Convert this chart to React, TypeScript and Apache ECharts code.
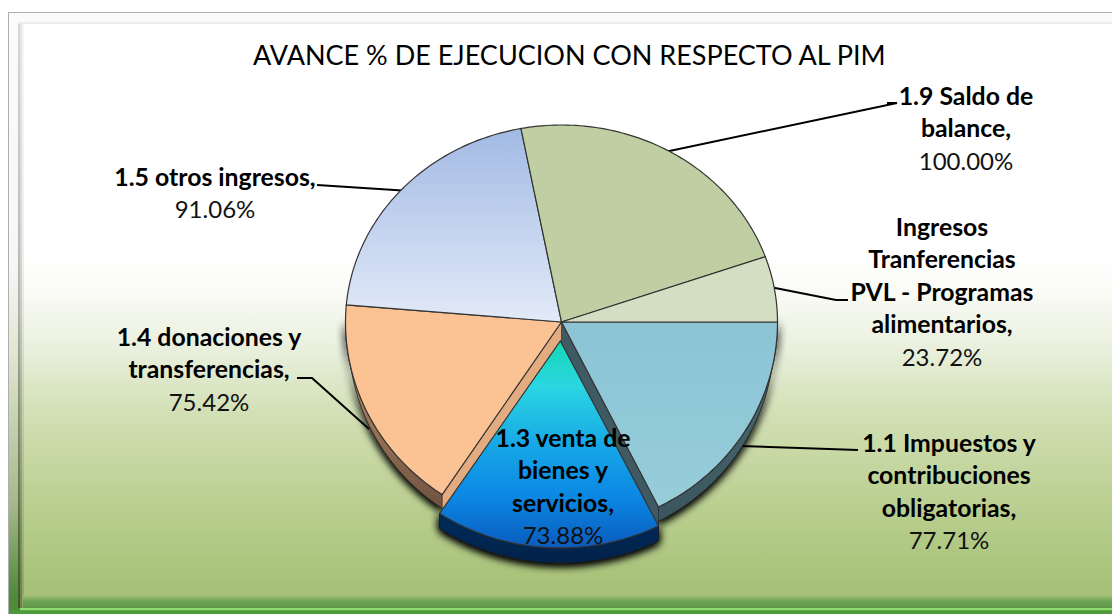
import React, { useEffect, useRef } from "react";
import * as echarts from "echarts";

const titleText = "AVANCE % DE EJECUCION CON RESPECTO AL PIM";
const sliceNames = [
  "1.1 Impuestos y\ncontribuciones\nobligatorias,",
  "1.3 venta de\nbienes y\nservicios,",
  "1.4 donaciones y\ntransferencias,",
  "1.5 otros ingresos,",
  "1.9 Saldo de\nbalance,",
  "Ingresos\nTranferencias\nPVL - Programas\nalimentarios,",
];
const sliceValues = [77.71, 73.88, 75.42, 91.06, 100.0, 23.72];

const labelAnchors = [
  [949, 426],
  [563, 421],
  [209, 320],
  [215, 160],
  [966, 79],
  [942, 210],
];
const leaderLines = [
  [[858, 450], [740, 446]],
  [],
  [[297, 378], [312, 378], [369, 429]],
  [[317, 185], [410, 191]],
  [[887, 103], [897, 103], [660, 153]],
  [[848, 300], [836, 300], [765, 286]],
];
const V = (stops: [number, string][]) =>
  ({
    type: "linear", x: 0, y: 0, x2: 0, y2: 1, global: false,
    colorStops: stops.map(([offset, color]) => ({ offset, color })),
  });
const faceFills: any[] = [
  V([[0, "#8cc4d5"], [1, "#97cdd9"]]),
  V([[0, "#12d8b4"], [0.22, "#2bd6e2"], [0.5, "#17a8e6"], [0.75, "#0b88e3"], [1, "#0a5bbd"]]),
  "#fbc394",
  V([[0, "#a2bae4"], [1, "#e3eaf8"]]),
  "#bfcea3",
  "#d4dec3",
];
const wallFills: any[] = [
  V([[0, "#4d6d76"], [1, "#3a565e"]]),
  V([[0, "#032c5a"], [1, "#00224a"]]),
  V([[0, "#cf9c74"], [1, "#6e5240"]]),
];
const cutFills: any[] = ["#3f5a62", null, "#e3ac80"];

const CX = 561.5;
const CY = 322;
const RX = 216;
const RY_UP = 197;
const RY_DOWN = 207;
const DEPTH = 15;
const EXPLODED = 1;
const EXPLODE = 19;
const TAU = Math.PI * 2;

const total = sliceValues.reduce((a, b) => a + b, 0);
const starts: number[] = [];
sliceValues.reduce((acc, v, i) => {
  starts[i] = (acc / total) * TAU;
  return acc + v;
}, 0);

function pt(t: number, ox = 0, oy = 0, k = 1): number[] {
  const s = Math.sin(t);
  return [CX + ox + RX * k * Math.cos(t), CY + oy + (s >= 0 ? RY_DOWN : RY_UP) * s];
}
function arc(a: number, b: number, ox = 0, oy = 0, k = 1): number[][] {
  const n = Math.max(8, Math.ceil(Math.abs(b - a) / 0.02));
  const out: number[][] = [];
  for (let i = 0; i <= n; i++) out.push(pt(a + ((b - a) * i) / n, ox, oy, k));
  return out;
}

function renderSlice(params: any, api: any) {
  const i = params.dataIndex;
  const v = api.value(1) as number;
  const a = starts[i];
  const b = a + (v / total) * TAU;
  const exploded = i === EXPLODED;
  const mid = (a + b) / 2;
  const ox = exploded ? EXPLODE * Math.cos(mid) : 0;
  const oy = exploded ? EXPLODE * Math.sin(mid) : 0;
  const topK = exploded ? 1.012 : 1;
  const children: any[] = [];

  const line = leaderLines[i];
  if (line.length) {
    children.push({
      type: "polyline", z2: 1, shape: { points: line },
      style: { stroke: "#000", lineWidth: 2, fill: "none" },
    });
  }
  if (wallFills[i]) {
    const k = exploded ? 1.012 : 0.985;
    const aw = Math.max(a, 0);
    const bw = Math.min(b, Math.PI);
    const pts = [...arc(aw, bw, ox, oy, topK), ...arc(bw, aw, ox, oy + DEPTH, k)];
    const shadow = {
      fill: wallFills[i], stroke: "#1c1c1c", lineWidth: 0.6,
      shadowBlur: 8, shadowColor: "rgba(0,0,0,1)", shadowOffsetY: 2,
    };
    children.push({ type: "polygon", z2: exploded ? 5 : 2, shape: { points: pts }, style: shadow });
    children.push({ type: "polygon", z2: exploded ? 5 : 2, shape: { points: pts }, style: shadow });
  }
  if (cutFills[i]) {
    const edge = i < EXPLODED ? pt(b) : pt(a);
    const pts = [[CX, CY], edge, [edge[0], edge[1] + DEPTH + 4], [CX, CY + DEPTH + 8]];
    children.push({
      type: "polygon", z2: 3, shape: { points: pts },
      style: { fill: cutFills[i], stroke: "#222", lineWidth: 0.6 },
    });
  }
  children.push({
    type: "polygon", z2: exploded ? 6 : 4,
    shape: { points: [[CX + ox, CY + oy], ...arc(a, b, ox, oy, topK)] },
    style: { fill: faceFills[i], stroke: "#333", lineWidth: 1.2 },
  });
  const [lx, ly] = labelAnchors[i];
  const rich = sliceNames[i].split("\n").map((s) => `{b|${s}}`).join("\n");
  children.push({
    type: "text", z2: 10, x: lx, y: ly,
    style: {
      text: `${rich}\n{r|${v.toFixed(2)}%}`,
      align: "center", verticalAlign: "top",
      fill: "#000",
      rich: {
        b: { fontFamily: "Lato", fontWeight: "bold", fontSize: 24.8, lineHeight: 32.5, fill: "#000" },
        r: { fontFamily: "Lato", fontSize: 24, lineHeight: 32.5, fill: "#111" },
      },
    },
  });
  return { type: "group", children };
}

const VG = (stops: [number, string][]) => new echarts.graphic.LinearGradient(0, 0, 0, 1,
  stops.map(([offset, color]) => ({ offset, color })));

const edgeGrad = (alpha: number) => VG([
  [0, `rgba(120,120,120,${alpha * 0.4})`],
  [0.5, `rgba(110,110,100,${alpha * 0.7})`],
  [1, `rgba(30,50,20,${alpha})`],
]);

export default function App() {
  const ref = useRef<HTMLDivElement>(null);
  useEffect(() => {
    document.body.style.margin = "0";
    const chart = echarts.init(ref.current!, undefined, { renderer: "svg" });
    chart.setOption({
      animation: false,
      graphic: [
        {
          type: "rect", silent: true, shape: { x: 9, y: 13, width: 1103, height: 601 },
          style: { fill: VG([[0, "#fbfbfb"], [0.42, "#f6f6f6"], [0.57, "#dfe5d0"], [0.82, "#a5b78a"], [0.97, "#4f8a3a"], [1, "#4c8c38"]]) },
        },
        { type: "rect", silent: true, shape: { x: 8, y: 12, width: 1104, height: 1 }, style: { fill: "#aeaeae" } },
        { type: "rect", silent: true, shape: { x: 8, y: 12, width: 1, height: 602 }, style: { fill: "#aeaeae" } },
        {
          type: "rect", silent: true, shape: { x: 18, y: 22, width: 1094, height: 586 },
          style: {
            fill: VG([[0, "#ffffff"], [0.39, "#ffffff"], [0.45, "#fbfcf8"], [0.555, "#eaf0de"], [0.657, "#d4e1b8"], [0.816, "#bbd092"], [0.957, "#a7c278"], [1, "#a5c177"]]),
          },
        },
        { type: "rect", silent: true, shape: { x: 18, y: 22, width: 2, height: 586 }, style: { fill: edgeGrad(0.75) } },
        { type: "rect", silent: true, shape: { x: 20, y: 22, width: 2, height: 586 }, style: { fill: edgeGrad(0.45) } },
        { type: "rect", silent: true, shape: { x: 22, y: 22, width: 2, height: 586 }, style: { fill: edgeGrad(0.18) } },
        { type: "rect", silent: true, shape: { x: 18, y: 22, width: 1094, height: 2 }, style: { fill: "#ececec" } },
        {
          type: "rect", silent: true, shape: { x: 23, y: 595, width: 1089, height: 13 },
          style: { fill: VG([[0, "#a5c177"], [0.45, "#6fa455"], [1, "#5b9645"]]) },
        },
        { type: "rect", silent: true, shape: { x: 20, y: 608, width: 1092, height: 2.5 }, style: { fill: "#8fdc70" } },
        { type: "rect", silent: true, shape: { x: 9, y: 610.5, width: 1103, height: 3.5 }, style: { fill: "#4f9a3c" } },
      ],
      title: {
        text: titleText, left: 248, top: 36,
        textStyle: { fontFamily: "Lato", fontWeight: "normal", fontSize: 27, color: "#000" },
      },
      series: [{
        type: "custom",
        coordinateSystem: "none",
        renderItem: renderSlice,
        silent: true,
        data: sliceValues.map((v, i) => [i, v]),
      }],
    });
    return () => chart.dispose();
  }, []);
  return <div ref={ref} style={{ position: "absolute", left: 0, top: 0, width: 1112, height: 614 }} />;
}
